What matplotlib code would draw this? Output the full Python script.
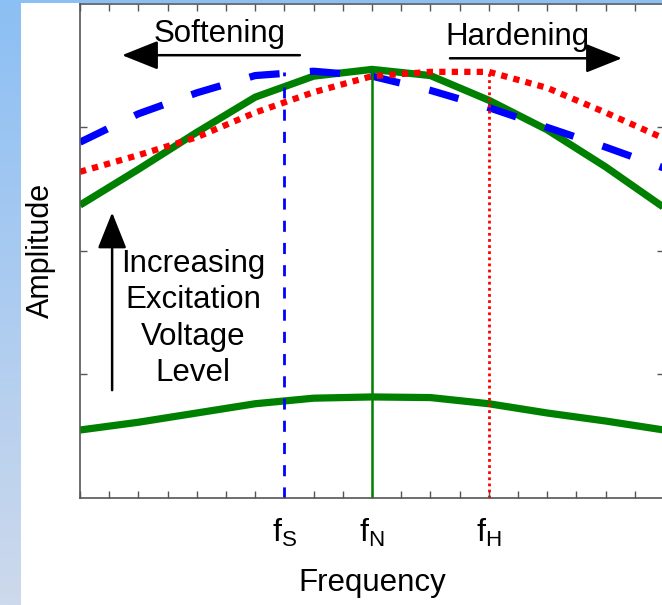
import matplotlib
matplotlib.use("Agg")
import matplotlib.pyplot as plt
import numpy as np
from matplotlib.colors import LinearSegmentedColormap

plt.rcParams['font.family'] = ['Liberation Sans', 'DejaVu Sans']

# ---- data ----
freq = [0, 2, 4, 6, 8, 10, 12, 14, 16, 18, 20]
amp_low_linear = [0.547, 0.61, 0.685, 0.76, 0.805, 0.815, 0.81, 0.76, 0.685, 0.62, 0.547]
amp_high_linear = [2.37, 2.66, 2.96, 3.245, 3.415, 3.47, 3.42, 3.22, 2.98, 2.68, 2.35]
amp_softening = [2.88, 3.11, 3.28, 3.42, 3.455, 3.415, 3.30, 3.16, 3.00, 2.84, 2.67]
amp_hardening = [2.64, 2.775, 2.92, 3.12, 3.285, 3.415, 3.45, 3.45, 3.32, 3.12, 2.91]

f_S, f_N, f_H = 7, 10, 14
peak_S, peak_N, peak_H = 3.45, 3.47, 3.45
tick_positions = list(range(0, 21))
tick_labels = {7: r'$\mathregular{f_S}$', 10: r'$\mathregular{f_N}$', 14: r'$\mathregular{f_H}$'}

fig = plt.figure(figsize=(6.62, 6.05), dpi=100)

# background gradient strips
bg = fig.add_axes([0, 0, 1, 1], zorder=-10)
cmap = LinearSegmentedColormap.from_list('bgc', ['#8cbff4', '#cdd9ec'])
bg.imshow(np.linspace(0, 1, 256).reshape(-1, 1), cmap=cmap, extent=[0, 21, 605, 0], aspect='auto')
bg.imshow(np.zeros((1, 2)), cmap=cmap, vmin=0, vmax=1, extent=[0, 662, 3, 0], aspect='auto')
bg.set_xlim(0, 662); bg.set_ylim(605, 0); bg.axis('off')

ax = fig.add_axes([80/662, (605-497.5)/605, 584/662, 493.5/605])
ax.set_xlim(0, 20)
ax.set_ylim(0, 4)

green = '#008000'
ax.plot(freq, amp_low_linear, color=green, lw=5.2, solid_capstyle='butt')
ax.plot(freq, amp_high_linear, color=green, lw=5.2, solid_capstyle='butt')
ax.plot(freq, amp_softening, color='#0000ff', lw=5.2, dashes=(4.2, 4.2))
ax.plot(freq, amp_hardening, color='#ff0000', lw=4.5, dashes=(1.0, 1.0))

ax.plot([f_S, f_S], [0, peak_S], color='#0000ff', lw=2, dashes=(4, 4))
ax.plot([f_N, f_N], [0, peak_N], color=green, lw=1.8)
ax.plot([f_H, f_H], [0, peak_H], color='#ff0000', lw=2, dashes=(1, 1.2))

ax.set_xticks(tick_positions)
ax.set_xticklabels([tick_labels.get(t, '') for t in tick_positions], fontsize=23)
ax.set_yticks([1, 2, 3])
ax.set_yticklabels([])
ax.tick_params(direction='in', length=5, width=1, color='#555555', top=True, right=True)
ax.tick_params(axis='x', pad=14)
for s in ax.spines.values():
    s.set_color('#555555')
    s.set_linewidth(1.2)

ax.set_xlabel('Frequency', fontsize=22.5)
ax.xaxis.set_label_coords(0.5, -(583 - 497.5) / 493.5)
ax.xaxis.label.set_va('center')
ax.set_ylabel('Amplitude', fontsize=22)
ax.yaxis.set_label_coords((41 - 80) / 584, 0.5)
ax.yaxis.label.set_va('center')

arrow_kw = dict(arrowstyle='-|>,head_length=1.25,head_width=0.5', color='black', lw=1.8,
                mutation_scale=18, shrinkA=0, shrinkB=0)
ax.annotate('', xy=(1.44, 3.585), xytext=(7.53, 3.585), arrowprops=arrow_kw)
ax.annotate('', xy=(18.56, 3.56), xytext=(12.67, 3.56), arrowprops=arrow_kw)
ax.annotate('', xy=(1.10, 2.31), xytext=(1.10, 0.87), arrowprops=arrow_kw)

ax.text(4.79, 3.76, 'Softening', fontsize=22.5, ha='center', va='center')
ax.text(14.97, 3.73, 'Hardening', fontsize=22.5, ha='center', va='center')
ax.text(3.87, 1.45, 'Increasing\nExcitation\nVoltage\nLevel', fontsize=22.5, ha='center', va='center',
        linespacing=1.28)

fig.savefig('out.png', dpi=100)
